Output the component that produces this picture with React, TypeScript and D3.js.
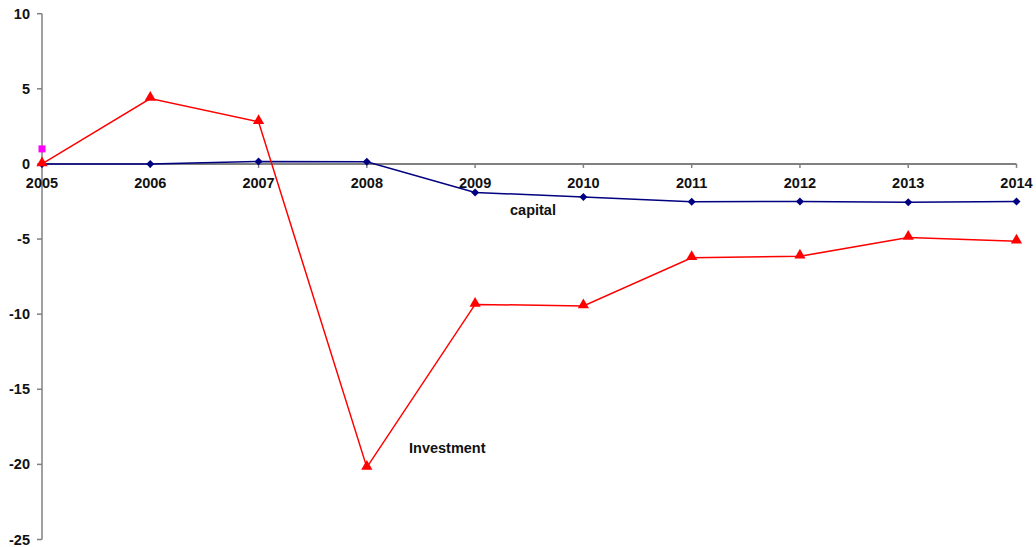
import React from "react";
import * as d3 from "d3";

const years = [2005, 2006, 2007, 2008, 2009, 2010, 2011, 2012, 2013, 2014];
const investment = [0, 4.35, 2.8, -20.2, -9.35, -9.45, -6.25, -6.15, -4.9, -5.15];
const capital = [0, 0, 0.16, 0.14, -1.9, -2.2, -2.52, -2.5, -2.55, -2.5];
const extraPoint = { year: 2005, value: 1 };
const yTicks = [10, 5, 0, -5, -10, -15, -20, -25];

const W = 1036;
const H = 547;
const FONT = "'Liberation Sans', Arial, sans-serif";

export default function App() {
  const x = d3.scaleLinear().domain([2005, 2014]).range([42, 1016.5]);
  const y = d3.scaleLinear().domain([10, -25]).range([13.7, 539.5]);

  const line = d3
    .line<number>()
    .x((_, i) => x(years[i]))
    .y((d) => y(d));

  const tri = d3.symbol(d3.symbolTriangle, 55)();
  const dia = "M0,-4L4,0L0,4L-4,0Z";

  return (
    <svg
      width={W}
      height={H}
      style={{ position: "absolute", left: 0, top: 0, background: "#fff" }}
      fontFamily={FONT}
    >
      {/* Y axis */}
      <line x1={x(2005)} x2={x(2005)} y1={y(10)} y2={y(-25)} stroke="#808080" strokeWidth={1.5} />
      {yTicks.map((t) => (
        <g key={t}>
          <line x1={x(2005) - 5} x2={x(2005)} y1={y(t)} y2={y(t)} stroke="#808080" strokeWidth={1.5} />
          <text
            x={30}
            y={y(t)}
            dy="0.35em"
            textAnchor="end"
            fontSize={14.5}
            fontWeight="bold"
            fill="#111"
          >
            {t}
          </text>
        </g>
      ))}
      {/* X axis at zero */}
      <line x1={x(2005)} x2={x(2014)} y1={y(0)} y2={y(0)} stroke="#808080" strokeWidth={2} />
      {years.map((yr) => (
        <g key={yr}>
          <line x1={x(yr)} x2={x(yr)} y1={y(0)} y2={y(0) + 4} stroke="#808080" strokeWidth={1.5} />
          <text
            x={x(yr)}
            y={y(0) + 19}
            dy="0.35em"
            textAnchor="middle"
            fontSize={14.5}
            fontWeight="bold"
            fill="#111"
          >
            {yr}
          </text>
        </g>
      ))}

      {/* Capital line */}
      <path d={line(capital) || ""} fill="none" stroke="#000080" strokeWidth={1.5} />
      {capital.map((v, i) => (
        <path key={"c" + i} d={dia} transform={`translate(${x(years[i])},${y(v)})`} fill="#000080" />
      ))}

      {/* Investment line */}
      <path d={line(investment) || ""} fill="none" stroke="#FF0000" strokeWidth={1.5} />
      {investment.map((v, i) => (
        <path key={"i" + i} d={tri || ""} transform={`translate(${x(years[i])},${y(v) - 1})`} fill="#FF0000" />
      ))}

      {/* Extra magenta point */}
      <rect
        x={x(extraPoint.year) - 3.5}
        y={y(extraPoint.value) - 3.5}
        width={7}
        height={7}
        fill="#FF00FF"
      />

      {/* Labels */}
      <text x={510} y={210} dy="0.35em" fontSize={14.5} fontWeight="bold" fill="#111">
        capital
      </text>
      <text x={409} y={448} dy="0.35em" fontSize={14.5} fontWeight="bold" fill="#111">
        Investment
      </text>
    </svg>
  );
}
